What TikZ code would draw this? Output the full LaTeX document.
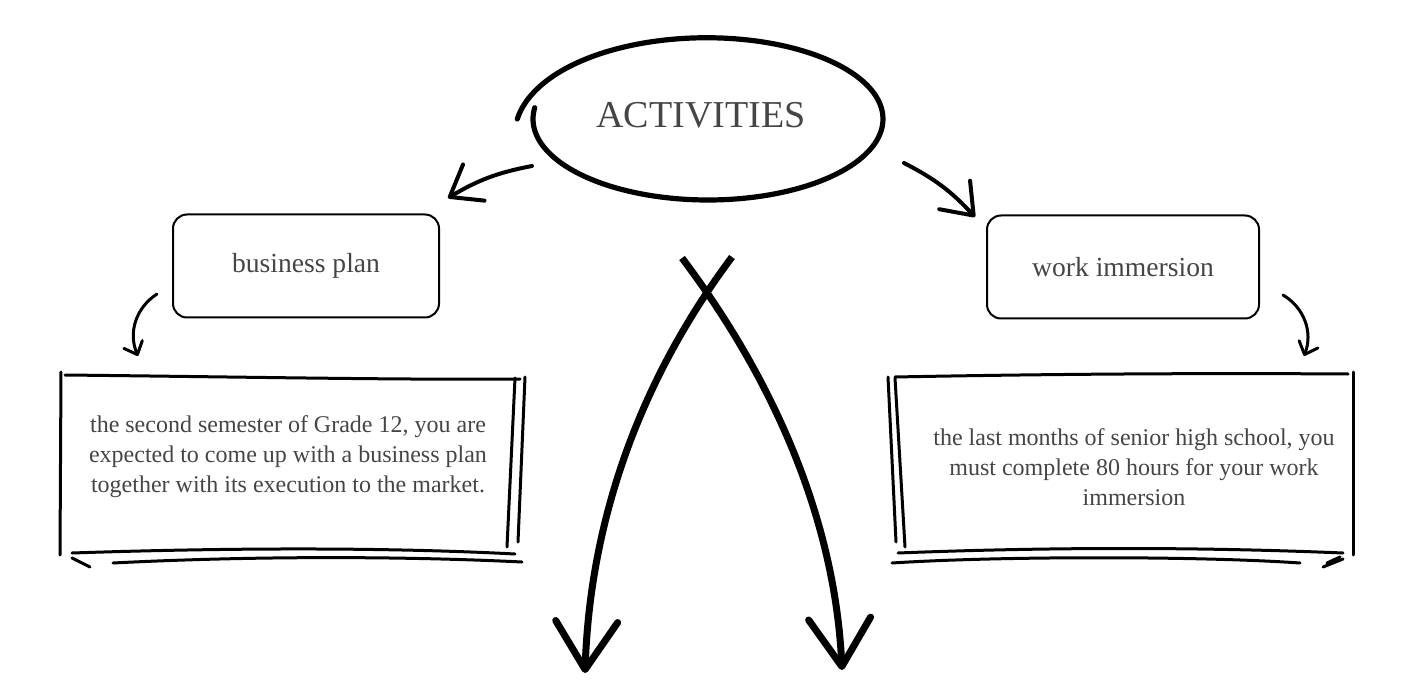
\documentclass[tikz,border=0pt]{standalone}
\usepackage{fontspec}
\setmainfont{Liberation Serif}
\usetikzlibrary{arrows.meta,positioning}
\definecolor{ink}{HTML}{454545}

\begin{document}
\begin{tikzpicture}[x=0.5pt,y=0.5pt]
\tikzset{headline/.style = {text=ink,font=\fontsize{19}{22}\selectfont}}
\tikzset{topic/.style = {draw,line width=1pt,rounded corners=7pt,text=ink,font=\fontsize{13.8}{16}\selectfont,minimum height=51.5pt}}
\tikzset{desc/.style = {text=ink,font=\fontsize{12}{15}\selectfont,align=center}}
\tikzset{pen/.style = {line width=1.5pt,line cap=round}}
\tikzset{bigarrow/.style = {line width=2pt,line cap=round,-{Straight Barb[length=14pt,width=21pt,round]}}}
\tikzset{smallarrow/.style = {line width=1.5pt,line cap=round,-{Straight Barb[length=5.5pt,width=10pt,round]}}}
\tikzset{crossarrow/.style = {line width=3.5pt,-{Straight Barb[length=24pt,width=31pt,round]}}}
\useasboundingbox (0,0) rectangle (1403,-695);
% central topic
\node[headline] (act) at (701,-115) {ACTIVITIES};
\draw[line width=2.6pt,line cap=round] plot[domain=172:540,samples=120,smooth]
  ({708+175*(1+0.09*((\x-172)/368)^12)*cos(\x)},{-119+81*(1+0.09*((\x-172)/368)^12)*sin(\x)});
% the two activities
\node[topic,minimum width=133pt] (bplan) at (306,-266) {business plan};
\node[topic,minimum width=136pt] (wimm) at (1123,-267) {work immersion};
% descriptions
\node[desc] (bdesc) at (288,-457) {the second semester of Grade 12, you are\\expected to come up with a business plan\\together with its execution to the market.};
\node[desc] (wdesc) at (1134,-467) {the last months of senior high school, you\\must complete 80 hours for your work\\immersion};
% sketchy frame round the left description
\draw[pen] (61,-372) -- (60,-555);
\draw[pen] (65,-375) .. controls (250,-377) and (400,-380) .. (520,-379);
\draw[pen] (515,-378) -- (507,-547);
\draw[pen] (525,-377) -- (518,-542);
\draw[pen] (72,-553) .. controls (250,-547) and (400,-548) .. (515,-554);
\draw[pen] (113,-563) .. controls (250,-556) and (400,-556) .. (522,-562);
\draw[pen] (72,-558) -- (90,-567);
% sketchy frame round the right description
\draw[pen] (1353,-372) -- (1353,-555);
\draw[pen] (895,-377) .. controls (1050,-374) and (1200,-373) .. (1348,-374);
\draw[pen] (888,-377) -- (896,-542);
\draw[pen] (895,-378) -- (905,-547);
\draw[pen] (898,-553) .. controls (1050,-547) and (1200,-547) .. (1343,-553);
\draw[pen] (892,-563) .. controls (1000,-556) and (1200,-556) .. (1300,-563);
\draw[pen] (1323,-567) -- (1343,-559);
\draw[pen] (1327,-563) -- (1340,-557);
% arrow ends
\coordinate (actL) at (532,-166);
\coordinate (actR) at (904,-163);
\coordinate (bpIn) at (448,-198);
\coordinate (wiIn) at (975,-217);
\coordinate (bpOut) at (157,-294);
\coordinate (bdIn) at (138,-356);
\coordinate (wiOut) at (1283,-295);
\coordinate (wdIn) at (1304,-356);
\coordinate (crossL) at (732,-257);
\coordinate (crossR) at (682,-258);
\coordinate (footL) at (585,-673);
\coordinate (footR) at (842,-670);
% arrows
\draw[bigarrow] (actL) to[bend right=10] (bpIn);
\draw[bigarrow] (actR) to[bend left=10] (wiIn);
\draw[smallarrow] (bpOut) to[bend right=40] (bdIn);
\draw[smallarrow] (wiOut) to[bend left=40] (wdIn);
\draw[crossarrow] (crossL) .. controls (640,-380) and (590,-520) .. (footL);
\draw[crossarrow] (crossR) .. controls (774,-380) and (835,-520) .. (footR);
\end{tikzpicture}
\end{document}
